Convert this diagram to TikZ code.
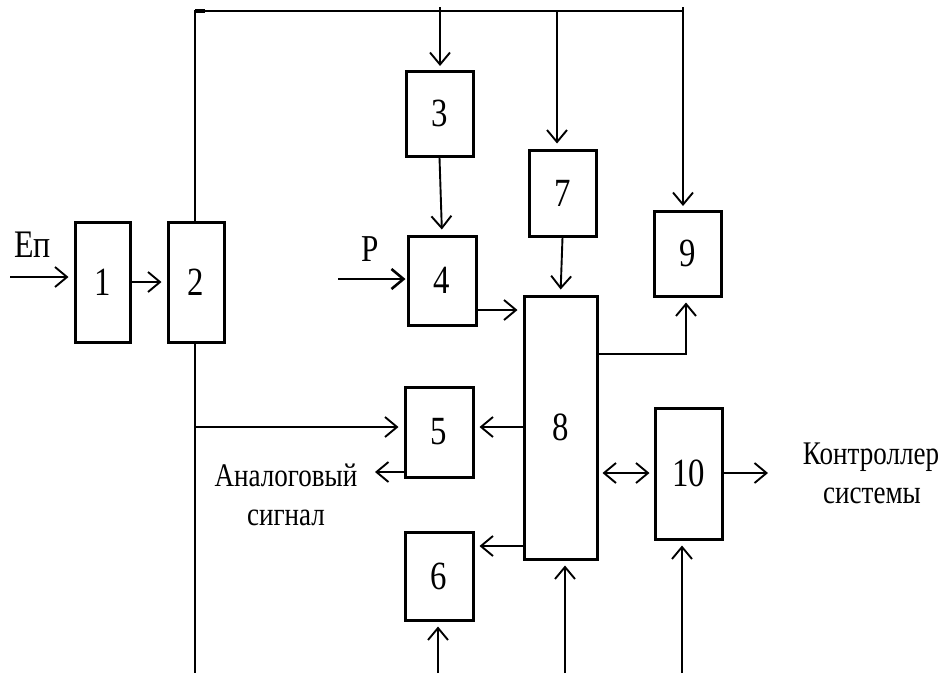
\documentclass[tikz,border=0pt]{standalone}
\usepackage{fontspec}
\setmainfont[FakeStretch=0.82]{Liberation Serif}
\usetikzlibrary{arrows.meta}
\begin{document}
\begin{tikzpicture}[x=1pt,y=-1pt,
 blk/.style={draw,line width=3pt,inner sep=0pt,font=\fontsize{40}{40}\selectfont},
 tipv/.tip={Straight Barb[length=12pt,width=20pt,line width=1.9pt]},
 arr/.style={line width=1.9pt,-tipv,shorten >=5pt},
 darr/.style={line width=1.9pt,tipv-tipv,shorten >=4pt,shorten <=4pt},
 bus/.style={line width=2.8pt},
 lbl/.style={font=\fontsize{33}{40}\selectfont,inner sep=0pt}]
\useasboundingbox (0,0) rectangle (950,673);
% blocks
\node[blk,minimum width=55pt,minimum height=120pt] (b1) at (102.5,282) {1};
\node[blk,minimum width=56pt,minimum height=120pt] (b2) at (196,282) {2};
\node[blk,minimum width=67pt,minimum height=85pt] (b3) at (439.5,113.5) {3};
\node[blk,minimum width=68pt,minimum height=89pt] (b4) at (442,280.5) {4};
\node[blk,minimum width=68pt,minimum height=90pt] (b5) at (439,432) {5};
\node[blk,minimum width=68pt,minimum height=88pt] (b6) at (439,576) {6};
\node[blk,minimum width=67pt,minimum height=86pt] (b7) at (562.5,193) {7};
\node[blk,minimum width=73pt,minimum height=263pt] (b8) at (560.5,427.5) {8};
\node[blk,minimum width=67pt,minimum height=85pt] (b9) at (687.5,253.5) {9};
\node[blk,minimum width=67pt,minimum height=131pt] (b10) at (688.5,473.5) {10};
% texts
\node[anchor=base west,inner sep=0pt,font=\fontsize{39}{39}\selectfont] (tep) at (14,257) {Еп};
\node[anchor=base,inner sep=0pt,font=\fontsize{38}{38}\selectfont] (tp) at (370,261) {P};
\node[lbl,anchor=base] (tan1) at (286,486) {Аналоговый};
\node[lbl,anchor=base] (tan2) at (286,525) {сигнал};
\node[lbl,anchor=base] (tk1) at (871,464) {Контроллер};
\node[lbl,anchor=base] (tk2) at (872,503) {системы};
% bus coordinates
\coordinate (T0) at (195,11);
\coordinate (T3) at (440,11);
\coordinate (T7) at (557,11);
\coordinate (T9) at (683,11);
\coordinate (B2) at (195,673);
\coordinate (J5) at (195,427);
\draw[bus] (b2.north -| T0) -- (T0) -- (T9);
\draw[line width=4.5pt] (T0) -- (205,11);
\draw[bus] (b2.south -| T0) -- (B2);
% arrows from bus
\draw[arr] (440,7) -- (440,71);
\draw[arr] (T7) -- (T7 |- b7.north);
\draw[arr] (683,7) -- (683,211);
% inputs
\coordinate (ep) at (10,277);
\draw[arr] (ep) -- (ep -| b1.west);
\draw[arr] (b1.east) -- (b2.west);
\coordinate (pin) at (338,279);
\draw[line width=2.6pt,-{Straight Barb[length=12pt,width=20pt,line width=2.6pt]},shorten >=1pt] (pin) -- (pin -| b4.west);
\draw[arr] (b3.south) -- (b4.north);
\draw[arr] (b4.east |- 0,310) -- (b8.west |- 0,310);
\draw[arr] (b7.south) -- (b8.north);
\draw[arr] (J5) -- (J5 -| b5.west);
\draw[arr] (b8.west |- J5) -- (b5.east |- J5);
\coordinate (aout) at (375,472);
\draw[arr,shorten >=0pt] (b5.west |- aout) -- (aout);
\coordinate (s6) at (0,546);
\draw[arr] (b8.west |- s6) -- (b6.east |- s6);
\coordinate (k9) at (686,354);
\draw[arr] (b8.east |- k9) -- (k9) -- (k9 |- b9.south);
\coordinate (d10) at (0,473);
\draw[darr] (b8.east |- d10) -- (b10.west |- d10);
\coordinate (kout) at (768,473);
\draw[arr,shorten >=0pt] (b10.east |- kout) -- (kout);
% bottom inputs
\coordinate (in6) at (438,673);
\coordinate (in8) at (565,673);
\coordinate (in10) at (682,673);
\draw[arr] (in6) -- (in6 |- b6.south);
\draw[arr] (in8) -- (in8 |- b8.south);
\draw[arr] (in10) -- (in10 |- b10.south);
\end{tikzpicture}
\end{document}
